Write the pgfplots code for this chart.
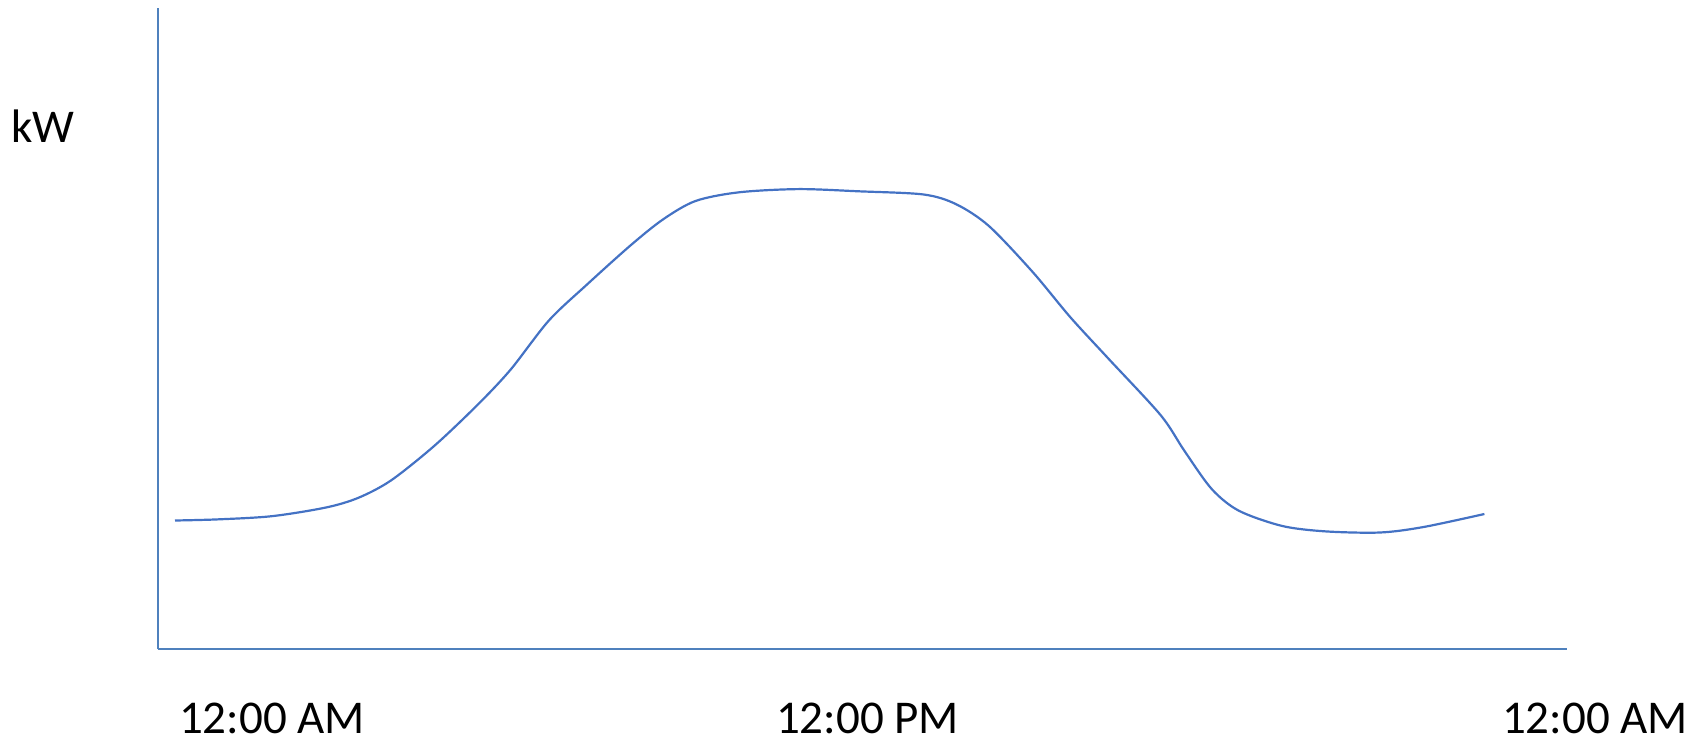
\documentclass[border=0pt]{standalone}
\usepackage{fontspec}
\setmainfont{Carlito}
\usepackage{pgfplots}
\pgfplotsset{compat=1.18}
\definecolor{axblue}{HTML}{4F81BD}
\definecolor{lineblue}{HTML}{4472C4}
\pgfplotstableread{
x y
175 128.5
217.3 129.6
271.7 132.8
326 141.5
358.6 151.3
391.2 168.7
434.7 203.5
478.1 244.7
510.7 279.5
548.8 328.4
586.8 364.3
630.3 403.4
662.9 429.5
695.5 448
739 456.7
798.7 459.9
858.5 457.7
923.7 454.5
956.3 444.7
988.9 423
1032.4 377.3
1070.4 331.7
1108.4 290.4
1160.6 233.9
1184.5 198
1211.7 160
1238.8 138.3
1282.3 123
1325.8 117.6
1380.1 116.5
1423.6 122
1484.4 135
}\loadcurve
\begin{document}
\begin{tikzpicture}[font=\fontsize{23.5}{28}\selectfont]
\useasboundingbox (0pt,0pt) rectangle (852pt,370.5pt);
\begin{axis}[at={(79pt,46pt)}, anchor=south west, scale only axis,
  width=704.5pt, height=320.5pt,
  xmin=158, xmax=1567, ymin=0, ymax=641,
  axis x line*=bottom, axis y line*=left, ticks=none,
  axis line style={axblue, line width=1.2pt, -},
  clip=false]
\addplot[lineblue, line width=1.1pt, smooth, tension=0.5] table[x=x,y=y] {\loadcurve};
\end{axis}
\node[anchor=base, inner sep=0pt] at (136pt,4pt) {12:00 AM};
\node[anchor=base, inner sep=0pt] at (433.75pt,4pt) {12:00 PM};
\node[anchor=base, inner sep=0pt] at (797.5pt,4pt) {12:00 AM};
\node[anchor=base, inner sep=0pt] at (21.5pt,299pt) {kW};
\end{tikzpicture}
\end{document}
